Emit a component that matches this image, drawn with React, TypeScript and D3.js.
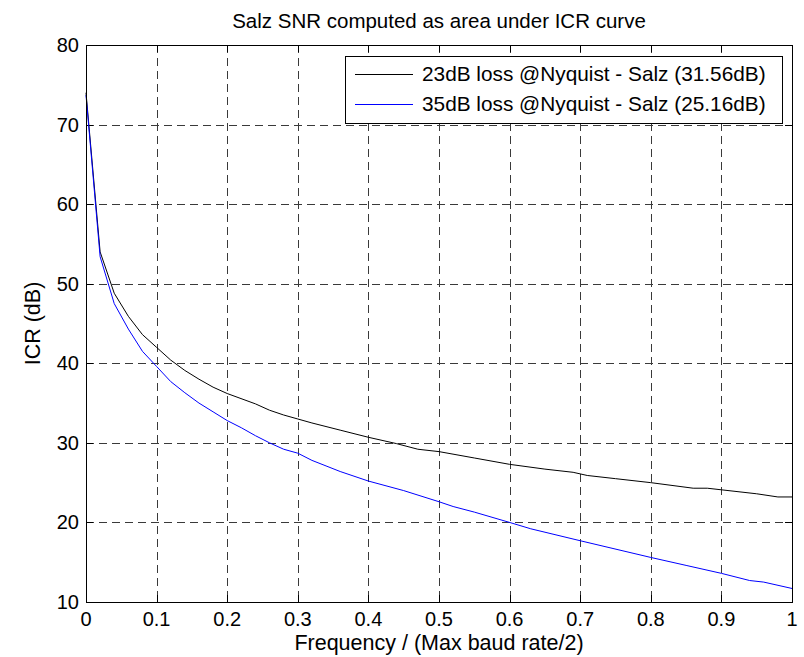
import React from "react";
import * as d3 from "d3";

const titleText = "Salz SNR computed as area under ICR curve";
const xLabel = "Frequency / (Max baud rate/2)";
const yLabel = "ICR (dB)";

const xTicks = [0, 0.1, 0.2, 0.3, 0.4, 0.5, 0.6, 0.7, 0.8, 0.9, 1];
const yTicks = [10, 20, 30, 40, 50, 60, 70, 80];

const seriesNames = [
  "23dB loss @Nyquist - Salz (31.56dB)",
  "35dB loss @Nyquist - Salz (25.16dB)",
];
const seriesColors = ["#000000", "#0000ff"];

const blackX = [0, 0.02, 0.04, 0.06, 0.08, 0.10, 0.12, 0.14, 0.16, 0.18, 0.20, 0.24, 0.26, 0.28, 0.30, 0.32, 0.36, 0.40, 0.44, 0.47, 0.50, 0.55, 0.60, 0.65, 0.69, 0.71, 0.75, 0.80, 0.86, 0.88, 0.90, 0.95, 0.98, 1.0];
const blackY = [74, 54.0, 48.8, 45.9, 43.6, 42.0, 40.4, 39.1, 38.0, 37.0, 36.2, 34.9, 34.1, 33.5, 33.0, 32.5, 31.6, 30.7, 29.9, 29.2, 28.9, 28.1, 27.3, 26.7, 26.3, 25.9, 25.5, 25.0, 24.3, 24.3, 24.1, 23.6, 23.2, 23.2];

const blueX = [0, 0.02, 0.04, 0.06, 0.08, 0.10, 0.12, 0.14, 0.16, 0.18, 0.20, 0.22, 0.24, 0.26, 0.28, 0.30, 0.32, 0.34, 0.36, 0.40, 0.45, 0.50, 0.52, 0.55, 0.60, 0.63, 0.70, 0.80, 0.85, 0.90, 0.94, 0.96, 1.0];
const blueY = [73.7, 53.4, 47.5, 44.3, 41.5, 39.6, 37.7, 36.3, 35.0, 33.9, 32.8, 31.9, 30.9, 30.0, 29.2, 28.7, 27.8, 27.1, 26.4, 25.2, 24.0, 22.6, 22.0, 21.3, 20.0, 19.2, 17.7, 15.6, 14.6, 13.6, 12.7, 12.5, 11.7];

const W = 804;
const H = 657;
const left = 86;
const right = 792;
const top = 45;
const bottom = 602;
const FONT = "'Liberation Sans', Arial, Helvetica, sans-serif";

export default function App() {
  const x = d3.scaleLinear().domain([0, 1]).range([left, right]);
  const y = d3.scaleLinear().domain([10, 80]).range([bottom, top]);
  const line = d3
    .line<[number, number]>()
    .x((d) => x(d[0]))
    .y((d) => y(d[1]));
  const series = [
    blackX.map((v, i) => [v, blackY[i]] as [number, number]),
    blueX.map((v, i) => [v, blueY[i]] as [number, number]),
  ];
  const tickLen = 7;
  const legL = 345,
    legR = 782,
    legT = 56,
    legB = 123;
  const rowY = [74, 104];

  return (
    <svg
      width={W}
      height={H}
      style={{ position: "absolute", left: 0, top: 0, background: "#fff" }}
      fontFamily={FONT}
    >
      <rect x={0} y={0} width={W} height={H} fill="#fff" />
      {xTicks.slice(1, -1).map((t) => (
        <line
          key={"gx" + t}
          x1={Math.round(x(t)) + 0.5}
          x2={Math.round(x(t)) + 0.5}
          y1={top}
          y2={bottom}
          stroke="#3a3a3a"
          strokeDasharray="8,5"
        />
      ))}
      {yTicks.slice(1, -1).map((t) => (
        <line
          key={"gy" + t}
          y1={Math.round(y(t)) + 0.5}
          y2={Math.round(y(t)) + 0.5}
          x1={left}
          x2={right}
          stroke="#3a3a3a"
          strokeDasharray="8,5"
        />
      ))}
      {xTicks.map((t) => (
        <g key={"tx" + t}>
          <line x1={Math.round(x(t)) + 0.5} x2={Math.round(x(t)) + 0.5} y1={bottom} y2={bottom - tickLen} stroke="#000" />
          <line x1={Math.round(x(t)) + 0.5} x2={Math.round(x(t)) + 0.5} y1={top} y2={top + tickLen} stroke="#000" />
          <text x={x(t)} y={626} textAnchor="middle" fontSize={20} fill="#000">
            {String(t)}
          </text>
        </g>
      ))}
      {yTicks.map((t) => (
        <g key={"ty" + t}>
          <line y1={Math.round(y(t)) + 0.5} y2={Math.round(y(t)) + 0.5} x1={left} x2={left + tickLen} stroke="#000" />
          <line y1={Math.round(y(t)) + 0.5} y2={Math.round(y(t)) + 0.5} x1={right} x2={right - tickLen} stroke="#000" />
          <text x={79} y={y(t) + 7} textAnchor="end" fontSize={20} fill="#000">
            {String(t)}
          </text>
        </g>
      ))}
      {series.map((s, i) => (
        <path key={"s" + i} d={line(s) || ""} fill="none" stroke={seriesColors[i]} strokeWidth={1} />
      ))}
      <rect x={left + 0.5} y={top + 0.5} width={right - left} height={bottom - top} fill="none" stroke="#000" />
      <rect x={legL + 0.5} y={legT + 0.5} width={legR - legL} height={legB - legT} fill="#fff" stroke="#000" />
      {seriesNames.map((n, i) => (
        <g key={"l" + i}>
          <line x1={355} x2={413} y1={rowY[i] + 0.5} y2={rowY[i] + 0.5} stroke={seriesColors[i]} />
          <text x={422} y={rowY[i] + 7} fontSize={20.8} fill="#000">
            {n}
          </text>
        </g>
      ))}
      <text x={(left + right) / 2} y={27.5} textAnchor="middle" fontSize={20.5} fill="#000">
        {titleText}
      </text>
      <text x={(left + right) / 2} y={650} textAnchor="middle" fontSize={21.5} fill="#000">
        {xLabel}
      </text>
      <text
        transform={`translate(40, ${(top + bottom) / 2}) rotate(-90)`}
        textAnchor="middle"
        fontSize={21.5}
        fill="#000"
      >
        {yLabel}
      </text>
    </svg>
  );
}
